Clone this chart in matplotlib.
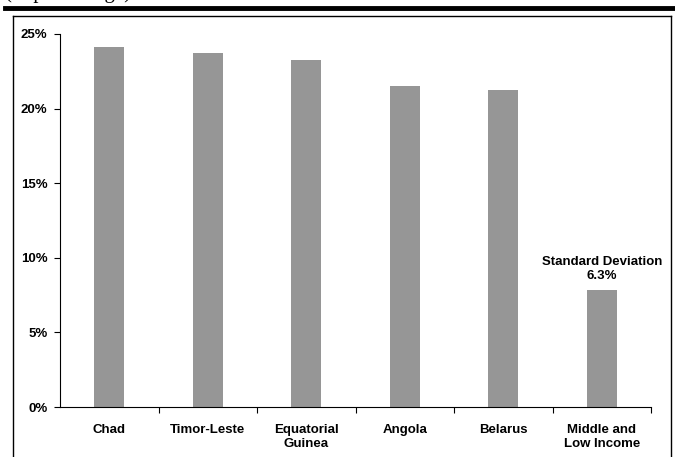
import matplotlib
matplotlib.use('Agg')
from matplotlib import pyplot as plt
from matplotlib.lines import Line2D
from matplotlib.ticker import FixedLocator, PercentFormatter

countries = ['Chad', 'Timor-Leste', 'Equatorial\nGuinea', 'Angola', 'Belarus', 'Middle and\nLow Income']
values = [24.1, 23.7, 23.25, 21.5, 21.25, 7.85]
note = 'Standard Deviation\n6.3%'

plt.rcParams['font.family'] = ['Liberation Sans', 'DejaVu Sans']

fig = plt.figure(figsize=(6.75, 4.57), dpi=100)
ax = fig.add_axes([60/675, 1 - 407/457, 591/675, (407 - 34)/457])

x = range(len(countries))
ax.bar(x, values, width=0.3, color='#969696')

ax.set_xlim(-0.5, len(countries) - 0.5)
ax.set_ylim(0, 25)
ax.set_yticks([0, 5, 10, 15, 20, 25])
ax.yaxis.set_major_formatter(PercentFormatter(decimals=0))
ax.set_xticks(list(x))
ax.set_xticklabels(countries, fontweight='bold', fontsize=9.5, linespacing=1.3)
ax.xaxis.set_minor_locator(FixedLocator([i + 0.5 for i in x]))
ax.tick_params(axis='x', which='major', length=0, pad=12)
ax.tick_params(axis='x', which='minor', length=4, width=0.8)
ax.tick_params(axis='y', length=4, width=0.8, pad=5, labelsize=9.5)
for lab in ax.get_yticklabels():
    lab.set_fontweight('bold')

for s in ['top', 'right']:
    ax.spines[s].set_visible(False)
for s in ['left', 'bottom']:
    ax.spines[s].set_linewidth(0.8)

ax.text(5, values[5] + 0.55, note, ha='center', va='bottom', fontweight='bold', fontsize=9.5, linespacing=1.2)

# frame and header rule
W, H = 675, 457
fig.add_artist(Line2D([5/W, 1], [1 - 8/H, 1 - 8/H], color='black', lw=3.5))
fig.add_artist(Line2D([12.5/W, 12.5/W], [0, 1 - 16/H], color='black', lw=1))
fig.add_artist(Line2D([12.5/W, 671/W], [1 - 16/H, 1 - 16/H], color='black', lw=1))
fig.add_artist(Line2D([671/W, 671/W], [0, 1 - 16/H], color='black', lw=1))
fig.text(5/W, 1 + 7/H, '(in percentage)', family='Liberation Serif', fontsize=15, va='center')

fig.savefig('out.png', dpi=100)
